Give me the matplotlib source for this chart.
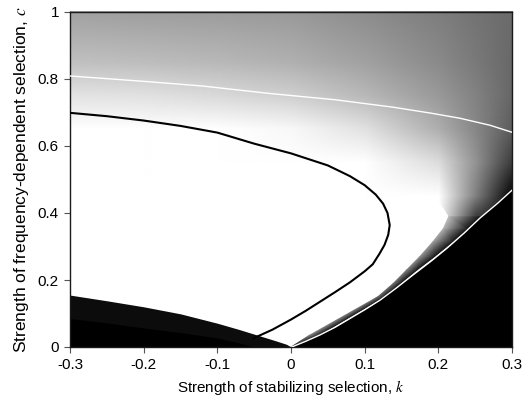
import numpy as np
import matplotlib
matplotlib.use("Agg")
import matplotlib.pyplot as plt
import matplotlib.tri as mtri
from matplotlib.image import NonUniformImage

plt.rcParams['font.family'] = ['Liberation Sans', 'DejaVu Sans']
plt.rcParams['mathtext.fontset'] = 'stix'
plt.rcParams['axes.unicode_minus'] = False

# smooth gray field (0 = black, 1 = white), read at grid points
k_grid = [-0.3, -0.2, -0.1, 0.0, 0.1, 0.2, 0.25, 0.3]
c_grid = [0.0, 0.39, 0.45, 0.55, 0.65, 0.75, 0.85, 1.0]
gray_grid = [
    [1.00, 1.00, 1.00, 1.00, 1.00, 1.00, 1.00, 1.00],
    [1.00, 1.00, 1.00, 1.00, 1.00, 1.00, 0.25, 0.00],
    [1.00, 1.00, 1.00, 1.00, 1.00, 1.00, 0.50, 0.00],
    [1.00, 1.00, 1.00, 1.00, 1.00, 0.86, 0.58, 0.23],
    [1.00, 1.00, 1.00, 0.97, 0.88, 0.68, 0.53, 0.36],
    [0.89, 0.88, 0.85, 0.81, 0.72, 0.60, 0.51, 0.40],
    [0.75, 0.74, 0.72, 0.69, 0.63, 0.54, 0.48, 0.41],
    [0.63, 0.62, 0.61, 0.60, 0.55, 0.49, 0.45, 0.42],
]

# right edge of the white region (sharp part)
edge_c = [0.0, 0.036, 0.15, 0.19, 0.23, 0.27, 0.315, 0.354, 0.389, 0.414, 0.439]
edge_k = [0.0, 0.026, 0.118, 0.139, 0.157, 0.175, 0.193, 0.207, 0.214, 0.207, 0.198]

# gray band between that edge and the lower white line
band_c = [0.0, 0.036, 0.15, 0.19, 0.23, 0.27, 0.315, 0.354, 0.389]
band_edge_k = [0.0, 0.026, 0.118, 0.139, 0.157, 0.175, 0.193, 0.207, 0.214]
band_line_k = [0.001, 0.039, 0.127, 0.149, 0.171, 0.195, 0.220, 0.240, 0.257]
band_edge_gray = [0.50, 0.55, 0.45, 0.47, 0.52, 0.58, 0.64, 0.70, 0.76]
band_line_gray = [0.08] * len(band_c)

# lower-left black region
left_black_k = [-0.3, -0.25, -0.2, -0.15, -0.1, -0.07, -0.045, -0.02, -0.006, 0.0]
left_black_c = [0.155, 0.138, 0.120, 0.099, 0.071, 0.052, 0.035, 0.018, 0.008, 0.0]
left_core_k = [-0.3, -0.25, -0.2, -0.15, -0.1, -0.07, -0.05]
left_core_c = [0.085, 0.072, 0.057, 0.043, 0.027, 0.012, 0.0]

# curves
upper_white_k = [-0.3, -0.2, -0.12, -0.03, 0.06, 0.138, 0.19, 0.229, 0.27, 0.3]
upper_white_c = [0.809, 0.793, 0.779, 0.757, 0.738, 0.716, 0.698, 0.683, 0.662, 0.641]

lower_white_k = [0.001, 0.02, 0.0394, 0.06, 0.08, 0.10, 0.121, 0.143, 0.1656,
                 0.19, 0.2118, 0.235, 0.2566, 0.28, 0.3]
lower_white_c = [0.0, 0.017, 0.036, 0.059, 0.085, 0.111, 0.140, 0.176, 0.215,
                 0.256, 0.295, 0.340, 0.385, 0.428, 0.468]

black_curve_k = [-0.3, -0.25, -0.2, -0.15, -0.1, -0.05, 0.0, 0.05, 0.08, 0.10,
                 0.115, 0.125, 0.131, 0.134, 0.132, 0.127, 0.12, 0.111, 0.10,
                 0.08, 0.06, 0.04, 0.02, 0.0, -0.025, -0.051]
black_curve_c = [0.699, 0.689, 0.676, 0.660, 0.640, 0.607, 0.578, 0.542, 0.510,
                 0.483, 0.455, 0.428, 0.400, 0.364, 0.335, 0.305, 0.278, 0.247,
                 0.226, 0.193, 0.164, 0.136, 0.108, 0.082, 0.052, 0.026]

x_ticks = [-0.3, -0.2, -0.1, 0.0, 0.1, 0.2, 0.3]
x_tick_labels = ['-0.3', '-0.2', '-0.1', '0', '0.1', '0.2', '0.3']
y_ticks = [0, 0.2, 0.4, 0.6, 0.8, 1.0]
y_tick_labels = ['0', '0.2', '0.4', '0.6', '0.8', '1']

fig = plt.figure(figsize=(5.26, 4.01), dpi=100)
ax = fig.add_axes([70 / 526, 1 - 347 / 401, 442 / 526, 335 / 401])
ax.set_xlim(-0.3, 0.3)
ax.set_ylim(0, 1)

# background field, bilinear between the read grid points
im = NonUniformImage(ax, interpolation='bilinear', extent=(-0.3, 0.3, 0, 1),
                     cmap='gray', zorder=0)
im.set_data(np.array(k_grid), np.array(c_grid), np.array(gray_grid))
im.set_clim(0, 1)
ax.add_image(im)

# solid white part of the white region
white_k = edge_k + [0.15, -0.3, -0.3]
white_c = edge_c + [0.45, 0.45, 0.0]
ax.fill(white_k, white_c, color='white', lw=0, zorder=0.5)

# band as a triangle strip with gouraud shading
n = len(band_c)
pts_k = band_edge_k + band_line_k
pts_c = band_c + band_c
pts_v = band_edge_gray + band_line_gray
tris = []
for i in range(n - 1):
    tris.append([i, i + 1, n + i])
    tris.append([i + 1, n + i + 1, n + i])
tri = mtri.Triangulation(pts_k, pts_c, tris)
ax.tripcolor(tri, pts_v, shading='gouraud', cmap='gray', vmin=0, vmax=1, zorder=1)

# black regions
ax.fill(lower_white_k + [0.3], lower_white_c + [0.0], color='black', lw=0, zorder=2)
ax.fill_between(left_black_k, 0, left_black_c, color='#0c0c0c', lw=0, zorder=2)
ax.fill_between(left_core_k, 0, left_core_c, color='black', lw=0, zorder=2)

ax.plot(upper_white_k, upper_white_c, color='white', lw=1.0, zorder=3)
ax.plot(lower_white_k, lower_white_c, color='white', lw=1.0, zorder=3)
ax.plot(black_curve_k, black_curve_c, color='black', lw=1.5, zorder=3)

ax.set_xticks(x_ticks)
ax.set_xticklabels(x_tick_labels)
ax.set_yticks(y_ticks)
ax.set_yticklabels(y_tick_labels)
ax.tick_params(direction='out', length=4, width=0.8, color='#555555',
               labelsize=11, pad=4)
for s in ax.spines.values():
    s.set_linewidth(1.0)
    s.set_color('#1a1a1a')

ax.set_xlabel('Strength of stabilizing selection, $k$', fontsize=11, labelpad=4)
ax.set_ylabel('Strength of frequency-dependent selection, $c$', fontsize=12.5, labelpad=5)

fig.savefig('out.png', dpi=100)
